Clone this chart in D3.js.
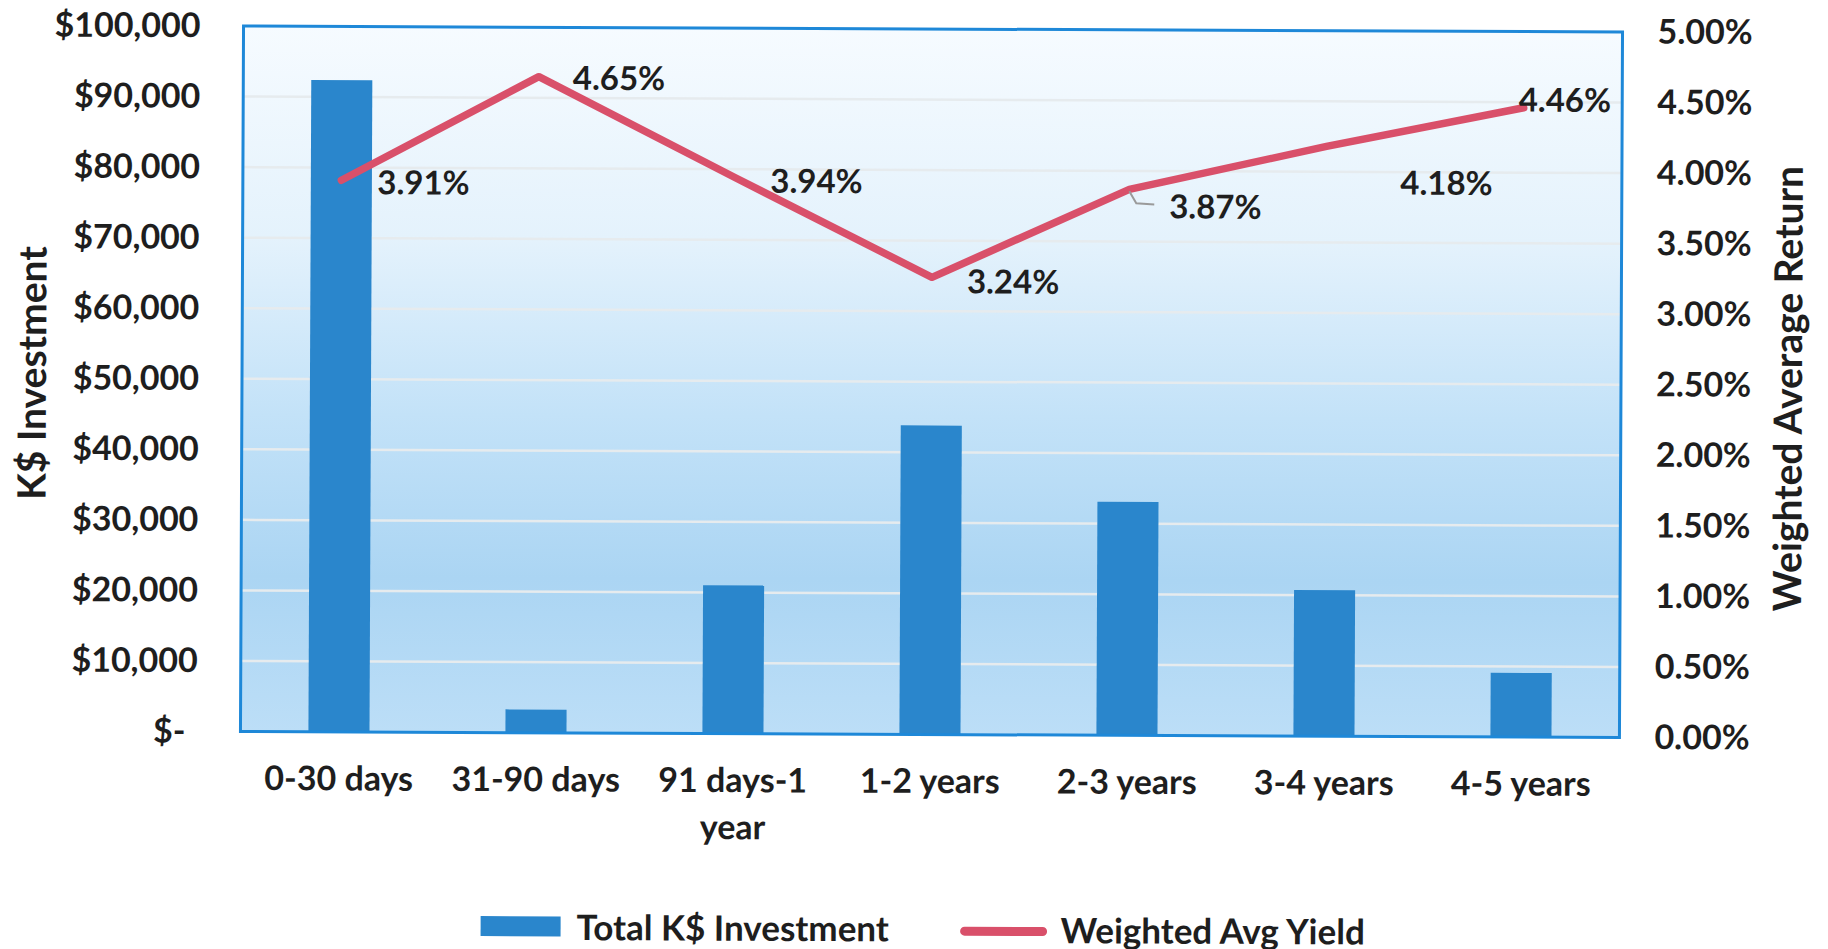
<html>
<head>
<script src="https://d3js.org/d3.v7.min.js"></script>
<style>
    body { margin: 0; background: #fff; }
    svg text { font-family: Lato, "Open Sans", sans-serif; font-weight: 700; fill: #1e1e1e; }
</style>
</head>
<body>
<script>
    var categories = ["0-30 days", "31-90 days", "91 days-1 year", "1-2 years", "2-3 years", "3-4 years", "4-5 years"];
    var investment = [92400, 3300, 21000, 43800, 33100, 20700, 9100];
    var yieldPct = [0.0391, 0.0465, 0.0394, 0.0324, 0.0387, 0.0418, 0.0446];
    var leftTicks = [0, 10000, 20000, 30000, 40000, 50000, 60000, 70000, 80000, 90000, 100000];
    var rightTicks = [0, 0.005, 0.01, 0.015, 0.02, 0.025, 0.03, 0.035, 0.04, 0.045, 0.05];

    // label nudges, Excel-style
    var labelOffsets = [[36, 2], [34, 1], [35, 3], [35, 4], [40, 17], [74, 36], [-5, -8]];

    var width = 1828, height = 949;
    var pL = 242, pR = 1621, pT = 29, pB = 734.5;

    var svg = d3.select("body").append("svg")
        .attr("width", width)
        .attr("height", height);

    var defs = svg.append("defs");
    var grad = defs.append("linearGradient")
        .attr("id", "bg").attr("x1", 0).attr("y1", 0).attr("x2", 0).attr("y2", 1);
    [[0, "#f6fbff"], [0.3, "#e4f2fc"], [0.55, "#c3e2f8"], [0.78, "#abd5f3"], [1, "#bcdef7"]]
        .forEach(function (s) {
            grad.append("stop").attr("offset", s[0]).attr("stop-color", s[1]);
        });

    // the scan is tilted a little
    var g = svg.append("g").attr("transform", "rotate(0.25, 931, 380)");

    var x = d3.scaleBand()
        .domain(categories)
        .range([pL, pR])
        .paddingInner(0.69)
        .paddingOuter(0.345);

    var yL = d3.scaleLinear().domain([0, 100000]).range([pB, pT]);
    var yR = d3.scaleLinear().domain([0, 0.05]).range([pB, pT]);

    g.append("rect")
        .attr("x", pL).attr("y", pT)
        .attr("width", pR - pL).attr("height", pB - pT)
        .attr("fill", "url(#bg)");

    g.append("g").selectAll("line")
        .data(leftTicks.slice(1, -1))
        .enter().append("line")
        .attr("x1", pL).attr("x2", pR)
        .attr("y1", function (d) { return yL(d); })
        .attr("y2", function (d) { return yL(d); })
        .attr("stroke", "#e6ebee")
        .attr("stroke-width", 2.5);

    g.append("g").selectAll("rect")
        .data(investment)
        .enter().append("rect")
        .attr("x", function (d, i) { return x(categories[i]); })
        .attr("y", function (d) { return yL(d); })
        .attr("width", x.bandwidth())
        .attr("height", function (d) { return pB - yL(d); })
        .attr("fill", "#2a86cc");

    g.append("rect")
        .attr("x", pL).attr("y", pT)
        .attr("width", pR - pL).attr("height", pB - pT)
        .attr("fill", "none")
        .attr("stroke", "#1e88d8")
        .attr("stroke-width", 3);

    var cx = function (i) { return x(categories[i]) + x.bandwidth() / 2; };

    var line = d3.line()
        .x(function (d, i) { return cx(i); })
        .y(function (d) { return yR(d); });

    g.append("path")
        .datum(yieldPct)
        .attr("d", line)
        .attr("fill", "none")
        .attr("stroke", "#d9506a")
        .attr("stroke-width", 7.5)
        .attr("stroke-linejoin", "round")
        .attr("stroke-linecap", "round");

    // leader line for the 2-3 years label
    var lx = cx(4), ly = yR(yieldPct[4]);
    g.append("polyline")
        .attr("points", [[lx, ly + 2], [lx + 7, ly + 14], [lx + 25, ly + 15]].join(" "))
        .attr("fill", "none")
        .attr("stroke", "#9a9a9a")
        .attr("stroke-width", 2);

    g.append("g").selectAll("text")
        .data(yieldPct)
        .enter().append("text")
        .attr("x", function (d, i) { return cx(i) + labelOffsets[i][0]; })
        .attr("y", function (d, i) { return yR(d) + labelOffsets[i][1]; })
        .attr("dy", "0.36em")
        .style("font-size", "33px")
        .text(d3.format(".2%"));

    // axes
    var axL = g.append("g")
        .attr("transform", "translate(" + pL + ",0)")
        .call(d3.axisLeft(yL).tickValues(leftTicks).tickSize(0).tickPadding(43)
            .tickFormat(function (d) { return d === 0 ? "$-" : "$" + d3.format(",")(d); }));
    axL.select(".domain").remove();
    axL.selectAll("text").style("font-size", "34px").attr("font-family", null)
        .attr("dx", function (d) { return d === 0 ? -12 : 0; });

    var axR = g.append("g")
        .attr("transform", "translate(" + pR + ",0)")
        .call(d3.axisRight(yR).tickValues(rightTicks).tickSize(0).tickPadding(35)
            .tickFormat(d3.format(".2%")));
    axR.select(".domain").remove();
    axR.selectAll("text").style("font-size", "34px").attr("font-family", null);

    // category labels, wrapped to the band
    var cat = g.append("g").selectAll("text")
        .data(categories)
        .enter().append("text")
        .attr("x", function (d, i) { return cx(i); })
        .attr("y", 793)
        .attr("text-anchor", "middle")
        .style("font-size", "34px");

    cat.each(function (d) {
        var t = d3.select(this), words = d.split(" ");
        var span = t.append("tspan").attr("x", t.attr("x")).attr("dy", 0);
        var cur = [];
        words.forEach(function (w) {
            cur.push(w);
            span.text(cur.join(" "));
            if (span.node().getComputedTextLength() > x.step() * 0.86 && cur.length > 1) {
                cur.pop();
                span.text(cur.join(" "));
                cur = [w];
                span = t.append("tspan").attr("x", t.attr("x")).attr("dy", "47px").text(w);
            }
        });
    });

    // axis titles
    g.append("text")
        .attr("transform", "translate(46,377) rotate(-90)")
        .attr("text-anchor", "middle")
        .style("font-size", "39px")
        .text("K$ Investment");

    g.append("text")
        .attr("transform", "translate(1802,385) rotate(-90)")
        .attr("text-anchor", "middle")
        .style("font-size", "39px")
        .text("Weighted Average Return");

    // legend
    var leg = g.append("g");
    leg.append("rect")
        .attr("x", 483).attr("y", 918).attr("width", 80).attr("height", 20)
        .attr("fill", "#2a86cc");
    leg.append("text")
        .attr("x", 579).attr("y", 929).attr("dy", "0.36em")
        .style("font-size", "35px")
        .text("Total K$ Investment");
    leg.append("line")
        .attr("x1", 967).attr("x2", 1045).attr("y1", 931).attr("y2", 931)
        .attr("stroke", "#d9506a").attr("stroke-width", 9).attr("stroke-linecap", "round");
    leg.append("text")
        .attr("x", 1063).attr("y", 930).attr("dy", "0.36em")
        .style("font-size", "35px")
        .text("Weighted Avg Yield");
</script>
</body>
</html>
